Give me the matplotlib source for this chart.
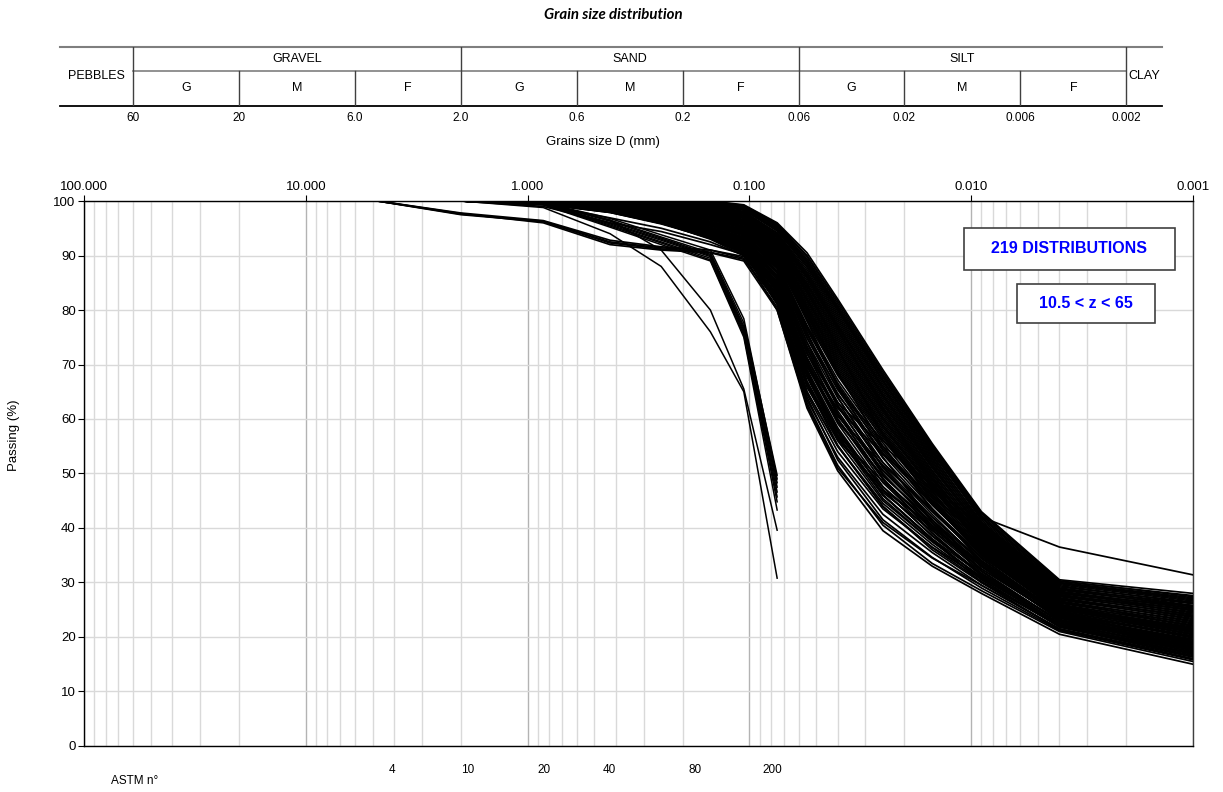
import numpy as np
import matplotlib
matplotlib.use('Agg')
import matplotlib.pyplot as plt
import matplotlib.ticker as mticker
from matplotlib.patches import Rectangle

plt.rcParams['font.family'] = ['Liberation Sans', 'DejaVu Sans']

# sieve + hydrometer sizes (mm)
sizes = [4.75, 2.0, 0.85, 0.425, 0.25, 0.15, 0.106, 0.075,
         0.055, 0.04, 0.025, 0.015, 0.009, 0.004, 0.001]

# full curves (sieve + hydrometer), % passing
fines_upper = [
    [100, 100, 100, 100, 100, 100, 99.3, 96.0, 90.5, 82.0, 69.0, 55.5, 43.0, 30.5, 28.0],
    [100, 100, 100, 100, 100, 99.8, 99.0, 95.6, 89.8, 81.2, 68.2, 55.0, 42.6, 30.2, 27.6],
    [100, 100, 100, 100, 100, 99.6, 98.8, 95.2, 89.0, 80.4, 67.6, 54.4, 42.0, 30.0, 27.2],
    [100, 100, 100, 100, 99.8, 99.4, 98.5, 94.8, 88.4, 79.8, 66.8, 53.8, 41.8, 29.8, 26.8],
    [100, 100, 100, 100, 99.7, 99.2, 98.4, 94.5, 87.8, 79.0, 66.0, 53.2, 41.2, 29.4, 26.2],
    [100, 100, 100, 100, 99.6, 99.0, 98.1, 94.0, 87.0, 78.2, 65.4, 52.6, 40.8, 29.0, 25.8],
    [100, 100, 100, 100, 99.5, 98.8, 97.8, 93.6, 86.4, 77.4, 64.6, 52.0, 40.4, 28.8, 25.5],
    [100, 100, 100, 99.9, 99.3, 98.6, 97.6, 93.2, 85.8, 76.8, 64.0, 51.4, 40.0, 28.4, 25.2],
    [100, 100, 100, 99.8, 99.2, 98.4, 97.3, 92.8, 85.0, 76.0, 63.2, 51.0, 39.6, 28.2, 24.8],
    [100, 100, 100, 99.8, 99.0, 98.2, 97.0, 92.4, 84.4, 75.2, 62.6, 50.4, 39.2, 27.8, 24.4],
    [100, 100, 100, 99.7, 98.8, 98.0, 96.8, 92.0, 83.6, 74.4, 61.8, 49.8, 38.8, 27.6, 24.0],
    [100, 100, 100, 99.6, 98.7, 97.8, 96.5, 91.6, 83.0, 73.6, 61.2, 49.2, 38.4, 27.2, 23.6],
    [100, 100, 100, 99.5, 98.5, 97.5, 96.2, 91.2, 82.2, 72.8, 60.4, 48.8, 38.0, 27.0, 23.2],
    [100, 100, 100, 99.4, 98.3, 97.2, 95.9, 90.8, 81.6, 72.0, 59.8, 48.2, 37.6, 26.6, 22.8],
    [100, 100, 99.9, 99.3, 98.2, 97.0, 95.6, 90.4, 80.8, 71.2, 59.0, 47.6, 37.2, 26.4, 22.4],
    [100, 100, 99.9, 99.2, 98.0, 96.8, 95.3, 90.0, 80.2, 70.4, 58.4, 47.2, 36.8, 26.0, 22.0],
    [100, 100, 99.9, 99.0, 97.8, 96.5, 95.0, 89.6, 79.4, 69.6, 57.6, 46.6, 36.4, 25.8, 21.6],
    [100, 100, 99.8, 98.9, 97.6, 96.2, 94.7, 89.2, 78.8, 68.8, 57.0, 46.0, 36.0, 25.4, 21.2],
    [100, 100, 99.8, 98.8, 97.4, 96.0, 94.4, 88.8, 78.0, 68.0, 56.2, 45.4, 35.6, 25.2, 20.8],
    [100, 100, 99.8, 98.7, 97.2, 95.7, 94.0, 88.4, 77.2, 67.2, 55.6, 44.8, 35.2, 24.8, 20.4],
]

fines_mid = [
    [100, 100, 100, 100, 100, 99.9, 99.2, 95.8, 90.0, 81.6, 68.6, 55.2, 42.8, 30.3, 27.4],
    [100, 100, 100, 100, 99.9, 99.7, 98.9, 95.4, 89.4, 80.8, 67.9, 54.7, 42.3, 29.9, 27.0],
    [100, 100, 100, 100, 99.9, 99.5, 98.6, 95.0, 88.7, 80.1, 67.2, 54.1, 41.5, 29.6, 26.6],
    [100, 100, 100, 100, 99.8, 99.3, 98.3, 94.6, 88.1, 79.4, 66.4, 53.5, 41.0, 29.2, 26.4],
    [100, 100, 100, 100, 99.7, 99.1, 98.0, 94.2, 87.4, 78.6, 65.7, 52.9, 40.6, 28.9, 26.1],
    [100, 100, 100, 99.9, 99.6, 98.9, 97.9, 93.8, 86.7, 77.8, 65.0, 52.3, 40.2, 28.6, 25.7],
    [100, 100, 100, 99.9, 99.4, 98.7, 97.7, 93.4, 86.1, 77.1, 64.3, 51.7, 39.8, 28.3, 25.3],
    [100, 100, 100, 99.8, 99.3, 98.5, 97.4, 93.0, 85.4, 76.4, 63.6, 51.2, 39.4, 28.0, 25.0],
    [100, 100, 100, 99.8, 99.1, 98.3, 97.1, 92.6, 84.7, 75.6, 62.9, 50.6, 39.0, 27.7, 24.6],
    [100, 100, 100, 99.7, 98.9, 98.1, 96.9, 92.2, 84.0, 74.8, 62.2, 50.1, 38.6, 27.4, 24.2],
    [100, 100, 100, 99.6, 98.8, 97.9, 96.6, 91.8, 83.3, 74.0, 61.5, 49.5, 38.2, 27.1, 23.8],
    [100, 100, 100, 99.5, 98.6, 97.6, 96.3, 91.4, 82.6, 73.2, 60.8, 49.0, 37.8, 26.8, 23.4],
    [100, 100, 100, 99.4, 98.4, 97.4, 96.0, 91.0, 81.9, 72.4, 60.1, 48.5, 37.4, 26.5, 23.0],
    [100, 100, 99.9, 99.3, 98.3, 97.1, 95.7, 90.6, 81.2, 71.6, 59.4, 47.9, 37.0, 26.2, 22.6],
    [100, 100, 99.9, 99.1, 98.1, 96.9, 95.4, 90.2, 80.5, 70.8, 58.7, 47.4, 36.6, 25.9, 22.2],
    [100, 100, 99.8, 99.0, 97.9, 96.6, 95.1, 89.8, 79.8, 70.0, 58.0, 46.8, 36.2, 25.6, 21.8],
    [100, 100, 99.8, 98.8, 97.7, 96.3, 94.8, 89.4, 79.1, 69.2, 57.3, 46.3, 35.8, 25.3, 21.4],
    [100, 100, 99.8, 98.7, 97.5, 96.1, 94.5, 89.0, 78.4, 68.4, 56.6, 45.7, 35.4, 25.0, 21.0],
    [100, 100, 99.7, 98.6, 97.1, 95.5, 93.8, 88.2, 76.8, 66.6, 54.9, 44.5, 35.0, 24.7, 20.6],
    [100, 100, 99.7, 98.5, 96.9, 95.2, 93.4, 87.6, 75.6, 65.4, 53.5, 43.6, 34.4, 24.2, 20.0],
    [100, 100, 99.6, 98.4, 96.7, 94.9, 93.0, 86.8, 74.1, 63.9, 52.0, 42.5, 33.6, 23.8, 19.4],
    [100, 100, 99.6, 98.3, 96.5, 94.6, 92.6, 86.0, 72.7, 62.3, 50.5, 41.4, 32.9, 23.2, 18.7],
    [100, 100, 99.6, 98.2, 96.3, 94.3, 92.2, 85.2, 71.3, 60.8, 49.0, 40.3, 32.2, 22.8, 18.0],
    [100, 100, 99.5, 98.1, 96.2, 94.0, 91.8, 84.4, 69.8, 59.2, 47.6, 39.1, 31.4, 22.2, 17.3],
    [100, 100, 99.5, 98.0, 96.1, 93.7, 91.4, 83.6, 68.4, 57.6, 46.1, 38.0, 30.6, 21.8, 16.6],
]

fines_lower = [
    [100, 100, 99.7, 98.6, 97.0, 95.4, 93.6, 88.0, 76.4, 66.2, 54.2, 44.2, 35.5, 25.5, 21.5],
    [100, 100, 99.7, 98.5, 96.8, 95.1, 93.2, 87.2, 74.8, 64.7, 52.8, 43.1, 34.7, 25.0, 20.9],
    [100, 100, 99.6, 98.4, 96.6, 94.8, 92.8, 86.4, 73.4, 63.1, 51.3, 42.0, 34.0, 24.5, 20.2],
    [100, 100, 99.6, 98.3, 96.4, 94.5, 92.4, 85.6, 72.0, 61.5, 49.8, 40.9, 33.2, 24.0, 19.6],
    [100, 100, 99.6, 98.2, 96.3, 94.2, 92.0, 84.8, 70.6, 60.0, 48.3, 39.7, 32.5, 23.5, 18.9],
    [100, 100, 99.5, 98.1, 96.2, 93.9, 91.6, 84.0, 69.1, 58.4, 46.9, 38.6, 31.7, 23.0, 18.3],
    [100, 100, 99.5, 98.1, 96.1, 93.6, 91.2, 83.2, 67.7, 56.8, 45.4, 37.5, 31.0, 22.5, 17.6],
    [100, 100, 99.5, 98.0, 96.0, 93.3, 90.8, 82.4, 66.3, 55.2, 43.9, 36.4, 30.2, 22.0, 17.0],
    [100, 100, 99.5, 98.0, 96.0, 93.1, 90.4, 81.0, 64.0, 52.5, 41.5, 34.6, 29.0, 21.2, 16.0],
    [100, 100, 99.5, 98.0, 96.0, 93.0, 90.0, 80.0, 62.0, 50.5, 39.5, 33.0, 28.0, 20.5, 15.0],
    [100, 100, 99.6, 98.3, 96.4, 94.4, 92.2, 85.0, 71.0, 61.0, 50.5, 42.0, 34.0, 24.0, 19.0],
    [100, 100, 99.6, 98.2, 96.2, 94.1, 91.9, 84.2, 69.5, 60.5, 51.5, 43.5, 35.0, 24.5, 19.8],
    [100, 100, 99.5, 98.1, 96.1, 93.8, 91.5, 83.5, 68.0, 58.0, 47.0, 38.5, 31.5, 22.5, 17.8],
    [100, 100, 99.5, 98.0, 96.0, 93.5, 91.0, 82.8, 66.5, 57.0, 48.5, 41.0, 33.5, 23.8, 18.6],
    [100, 100, 99.5, 98.0, 95.9, 93.3, 90.6, 81.8, 65.0, 55.0, 44.5, 37.0, 30.5, 22.0, 16.8],
    [100, 100, 99.4, 97.9, 95.8, 93.2, 90.3, 81.3, 63.5, 53.0, 42.5, 35.5, 29.5, 21.5, 16.3],
    [100, 100, 99.6, 98.2, 96.3, 94.0, 91.7, 83.8, 67.0, 56.5, 46.5, 39.5, 32.0, 22.8, 17.2],
    [100, 100, 99.7, 98.4, 96.6, 94.6, 92.6, 85.6, 70.5, 59.5, 49.5, 41.5, 33.8, 23.6, 18.2],
    [100, 100, 99.7, 98.5, 96.9, 95.1, 93.3, 86.8, 73.0, 62.5, 52.0, 43.0, 34.5, 24.3, 19.2],
    [100, 100, 99.8, 98.7, 97.2, 95.6, 93.9, 87.8, 75.0, 64.5, 53.8, 44.5, 35.8, 25.2, 20.5],
    [100, 100, 99.8, 98.8, 97.4, 95.9, 94.3, 88.6, 77.0, 66.0, 54.5, 45.0, 36.2, 25.6, 21.2],
    [100, 100, 99.5, 98.1, 96.1, 93.7, 91.3, 82.0, 65.8, 56.2, 47.0, 40.5, 33.0, 23.2, 17.6],
    [100, 100, 99.4, 97.9, 95.9, 93.4, 90.8, 81.5, 64.5, 54.0, 43.5, 36.5, 30.8, 22.4, 16.9],
    [100, 100, 99.6, 98.3, 96.4, 94.3, 92.0, 84.6, 68.8, 57.8, 46.0, 37.8, 30.0, 21.3, 15.8],
    [100, 100, 99.7, 98.5, 96.8, 94.8, 92.8, 86.2, 72.2, 61.0, 49.0, 39.0, 31.2, 21.9, 16.4],
]

fines_crossing = [
    [100, 100, 100, 99.8, 99.0, 98.0, 97.0, 92.5, 84.0, 73.0, 57.0, 45.0, 35.5, 25.5, 21.0],
    [100, 100, 100, 99.5, 98.5, 97.5, 96.0, 90.0, 78.0, 66.0, 53.0, 41.0, 31.5, 23.0, 18.5],
    [100, 100, 99.6, 98.4, 96.5, 94.5, 92.0, 84.0, 70.0, 62.0, 53.5, 46.0, 38.0, 27.0, 23.8],
    [100, 100, 99.7, 98.6, 97.0, 95.0, 93.0, 86.0, 72.0, 63.0, 55.0, 48.0, 40.0, 28.0, 25.6],
    [100, 100, 99.9, 99.0, 97.5, 96.0, 94.0, 88.0, 75.5, 65.5, 56.0, 47.0, 39.0, 27.6, 25.0],
    [100, 100, 100, 99.6, 98.6, 97.6, 96.4, 91.0, 80.0, 68.5, 55.0, 43.5, 34.0, 24.0, 19.5],
    [100, 100, 99.8, 98.8, 97.3, 95.8, 94.2, 87.0, 74.0, 62.5, 50.0, 40.5, 32.5, 23.5, 18.0],
    [100, 100, 99.6, 98.3, 96.5, 94.6, 92.5, 84.5, 68.0, 57.5, 47.5, 40.0, 33.5, 24.5, 20.0],
    [100, 100, 99.9, 99.2, 98.0, 96.8, 95.0, 88.5, 76.0, 64.0, 51.0, 41.5, 33.0, 23.5, 19.0],
    [100, 100, 100, 99.9, 99.4, 98.8, 97.8, 93.5, 86.0, 76.5, 62.0, 48.0, 37.5, 26.5, 22.0],
    [100, 100, 100, 100, 100, 99.8, 99.0, 95.5, 89.0, 80.5, 67.0, 54.0, 42.0, 36.5, 31.4],
]

# curves with some gravel / coarse sand
gravelly = [
    [100, 97.6, 96.3, 92.5, 91.4, 91.0, 89.5, 80.5, 63.0, 51.5, 40.5, 33.5, 28.5, 21.0, 15.5],
    [100, 97.8, 96.4, 92.8, 91.6, 91.0, 89.8, 83.0, 68.0, 57.0, 46.0, 38.0, 31.5, 23.0, 18.0],
    [100, 97.5, 96.2, 92.3, 91.2, 90.6, 89.3, 81.5, 65.0, 55.0, 44.0, 36.0, 30.0, 22.0, 17.0],
    [100, 97.7, 96.0, 92.0, 91.0, 90.5, 89.0, 80.0, 62.5, 51.0, 41.0, 34.5, 29.5, 21.5, 16.0],
    [100, 100, 99.3, 96.9, 95.0, 92.5, 90.0, 84.0, 70.0, 60.0, 49.0, 40.0, 33.0, 24.0, 19.0],
    [100, 100, 99.0, 96.0, 94.4, 92.0, 90.2, 82.5, 66.5, 56.0, 45.0, 37.5, 31.0, 22.5, 17.5],
]

# sieve-only curves (stop at 0.075 mm)
sieve_only = [
    [100, 100, 98.8, 94.0, 88.0, 76.0, 65.0, 30.8],
    [100, 100, 99.5, 96.5, 91.0, 80.0, 65.5, 39.6],
    [100, 100, 99.6, 96.5, 93.4, 90.5, 77.6, 49.7],
    [100, 100, 99.6, 96.3, 93.2, 90.2, 77.0, 48.3],
    [100, 100, 99.5, 96.0, 93.0, 90.0, 76.6, 47.5],
    [100, 100, 99.5, 95.8, 92.8, 89.8, 76.2, 46.6],
    [100, 100, 99.4, 95.6, 92.5, 89.5, 75.8, 45.7],
    [100, 100, 99.4, 95.4, 92.3, 89.2, 75.4, 44.8],
    [100, 100, 99.3, 95.2, 92.0, 89.0, 75.0, 43.3],
    [100, 100, 99.7, 96.8, 93.8, 91.0, 78.4, 49.0],
]

# classification table
class_bounds = [60, 2.0, 0.06, 0.002]
class_names = ['GRAVEL', 'SAND', 'SILT']
sub_bounds = [60, 20, 6.0, 2.0, 0.6, 0.2, 0.06, 0.02, 0.006, 0.002]
sub_names = ['G', 'M', 'F', 'G', 'M', 'F', 'G', 'M', 'F']
bound_labels = ['60', '20', '6.0', '2.0', '0.6', '0.2', '0.06', '0.02', '0.006', '0.002']

astm_labels = ['4', '10', '20', '40', '80', '200']
astm_pos = [4.1, 1.86, 0.84, 0.43, 0.176, 0.079]

fig = plt.figure(figsize=(12.23, 7.92), dpi=100)

# ---- main chart
ax = fig.add_axes([0.0687, 0.0581, 0.9068, 0.6881])
ax.set_xscale('log')
ax.set_xlim(100, 0.001)
ax.set_ylim(0, 100)

for c in fines_upper + fines_mid + fines_lower + fines_crossing + gravelly:
    ax.plot(sizes, c, color='black', lw=1.25, zorder=3)
for c in sieve_only:
    ax.plot(sizes[:len(c)], c, color='black', lw=1.1, zorder=3)

ax.xaxis.set_major_locator(mticker.LogLocator(base=10, numticks=10))
ax.xaxis.set_minor_locator(mticker.LogLocator(base=10, subs=np.arange(2, 10), numticks=100))
ax.xaxis.set_major_formatter(mticker.FuncFormatter(lambda v, p: f'{v:.3f}'))
ax.xaxis.set_minor_formatter(mticker.NullFormatter())
ax.grid(True, which='major', axis='x', color='#b3b3b3', lw=1)
ax.grid(True, which='minor', axis='x', color='#d9d9d9', lw=1)
ax.grid(True, which='major', axis='y', color='#d9d9d9', lw=1)
ax.set_axisbelow(True)
ax.tick_params(axis='x', which='major', bottom=False, labelbottom=False,
               top=True, labeltop=True, direction='out', length=4, labelsize=9.5, pad=2)
ax.tick_params(axis='x', which='minor', bottom=False, top=False)
ax.set_yticks(range(0, 101, 10))
ax.tick_params(axis='y', direction='out', length=4, labelsize=9.5, pad=2)
for s in ax.spines.values():
    s.set_color('black')
    s.set_linewidth(1.0)
ax.spines['right'].set_color('#404040')

ax.set_ylabel('Passing (%)', fontsize=9.5)
ax.yaxis.set_label_coords(-0.0577, 0.57)

tr = ax.get_xaxis_transform()
for lab, x in zip(astm_labels, astm_pos):
    ax.text(x, -0.044, lab, transform=tr, ha='center', va='center', fontsize=8.5)
ax.text(0.046, -0.064, 'ASTM n°', transform=ax.transAxes, ha='center', va='center', fontsize=8.5)

# info boxes
ax.add_patch(Rectangle((0.7935, 0.8734), 0.1903, 0.0771, transform=ax.transAxes,
                       facecolor='white', edgecolor='#404040', lw=1.2, zorder=5))
ax.text(0.8886, 0.912, '219 DISTRIBUTIONS', transform=ax.transAxes, ha='center', va='center',
        color='#0000ff', fontweight='bold', fontsize=11.5, zorder=6)
ax.add_patch(Rectangle((0.8413, 0.7761), 0.1244, 0.0716, transform=ax.transAxes,
                       facecolor='white', edgecolor='#404040', lw=1.2, zorder=5))
ax.text(0.9035, 0.812, '10.5 < z < 65', transform=ax.transAxes, ha='center', va='center',
        color='#0000ff', fontweight='bold', fontsize=11.5, zorder=6)

# ---- classification table
tab = fig.add_axes([0.0687, 0.8662, 0.9068, 0.0745])
tab.set_xscale('log')
tab.set_xlim(100, 0.001)
tab.set_ylim(0, 1)
tab.axis('off')
left_end, right_end = 128.3, 0.00138
mid = 0.593
tab.plot([left_end, right_end], [1, 1], color='#7f7f7f', lw=1.5, clip_on=False)
tab.plot([left_end, right_end], [0, 0], color='black', lw=1.3, clip_on=False)
tab.plot([class_bounds[0], class_bounds[-1]], [mid, mid], color='#7f7f7f', lw=1.2)
for b in class_bounds:
    tab.plot([b, b], [0, 1], color='#404040', lw=1.0)
for b in sub_bounds:
    if b not in class_bounds:
        tab.plot([b, b], [0, mid], color='#404040', lw=1.0)
for i, name in enumerate(class_names):
    xc = np.sqrt(class_bounds[i] * class_bounds[i + 1])
    tab.text(xc, (1 + mid) / 2, name, ha='center', va='center', fontsize=9)
for i, name in enumerate(sub_names):
    xc = np.sqrt(sub_bounds[i] * sub_bounds[i + 1])
    tab.text(xc, mid / 2, name, ha='center', va='center', fontsize=9)
tab.text(np.sqrt(left_end * 60), 0.5, 'PEBBLES', ha='center', va='center', fontsize=9)
tab.text(np.sqrt(right_end * 0.002), 0.5, 'CLAY', ha='center', va='center', fontsize=9)
for b, lab in zip(sub_bounds, bound_labels):
    tab.text(b, -0.2, lab, ha='center', va='center', fontsize=8.5, clip_on=False)

fig.text(603 / 1223, 1 - 142 / 792, 'Grains size D (mm)', ha='center', va='center', fontsize=9.5)
fig.text(613 / 1223, 1 - 15 / 792, 'Grain size distribution', ha='center', va='center',
         fontsize=10.8, fontweight='bold', fontstyle='italic', family=['Lato', 'DejaVu Sans'])

fig.savefig('out.png', dpi=100)
